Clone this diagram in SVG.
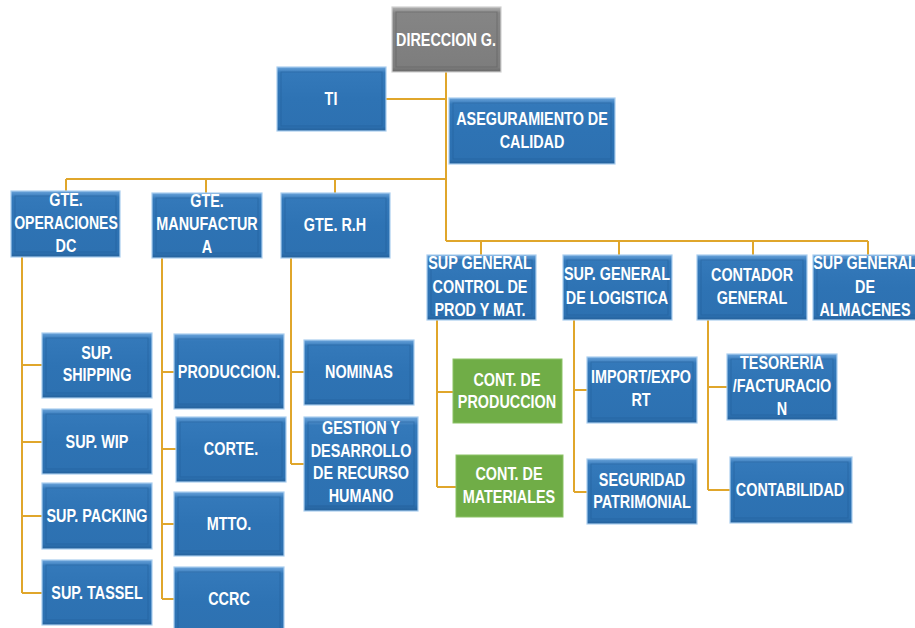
<svg xmlns="http://www.w3.org/2000/svg" width="915" height="628" viewBox="0 0 915 628">
<defs>
<linearGradient id="gB" x1="0" y1="0" x2="0" y2="1">
<stop offset="0" stop-color="#6aa3da"/><stop offset="0.09" stop-color="#3479ba"/><stop offset="0.5" stop-color="#2e73b4"/><stop offset="0.93" stop-color="#2d71b1"/><stop offset="1" stop-color="#24609a"/>
</linearGradient>
<linearGradient id="gG" x1="0" y1="0" x2="0" y2="1">
<stop offset="0" stop-color="#b2b2b2"/><stop offset="0.09" stop-color="#858585"/><stop offset="0.93" stop-color="#7d7d7d"/><stop offset="1" stop-color="#666"/>
</linearGradient>
</defs>
<style>
.b{fill:url(#gB);stroke:#a9cdef;stroke-width:1.2}
.g{fill:url(#gG);stroke:#d0d0d0;stroke-width:1.2}
.gr{fill:#70ad47;stroke:#8cc366;stroke-width:1}
.in{fill:none;stroke:#1f5a92;stroke-opacity:0.45;stroke-width:1}
.ing{fill:none;stroke:#555;stroke-opacity:0.45;stroke-width:1}
text{font-family:"Liberation Sans Narrow","Liberation Sans",Arial,sans-serif;font-weight:bold;font-size:18px;fill:#fff;text-anchor:middle}
.c{fill:none;stroke:#e0a62b;stroke-width:2}
</style>
<g id="connectors" class="c">
<path d="M446,72V241M386,99H446M66,179H446M66,179V191M206,179V193M335,179V193"/>
<path d="M446,241H868M481,241V255M619,241V255M753,241V255M868,241V255"/>
<path d="M22,257V593M22,365H42M22,442H42M22,516H42M22,593H42"/>
<path d="M162,258V599M162,372H174M162,449H176M162,524H174M162,599H174"/>
<path d="M291,258V464M291,372H304M291,464H304"/>
<path d="M437,320V487M437,392H453M437,487H456"/>
<path d="M574,320V492M574,390H587M574,492H587"/>
<path d="M708,320V490M708,387H727M708,490H730"/>
</g>
<g id="direccion"><rect class="g" x="392" y="7" width="109" height="65"/><rect class="ing" x="396" y="12" width="101" height="55"/><text transform="translate(446 46) scale(.8 1)">DIRECCION G.</text></g>
<g id="ti"><rect class="b" x="277" y="67" width="109" height="64"/><rect class="in" x="281" y="72" width="101" height="54"/><text transform="translate(331 105) scale(.8 1)">TI</text></g>
<g id="aseguramiento"><rect class="b" x="449" y="98" width="166" height="66"/><rect class="in" x="453" y="103" width="158" height="56"/><text transform="translate(532 125) scale(.8 1)">ASEGURAMIENTO DE</text><text transform="translate(532 148) scale(.8 1)">CALIDAD</text></g>
<g id="gte-operaciones"><rect class="b" x="11" y="191" width="109" height="66"/><rect class="in" x="15" y="196" width="101" height="56"/><text transform="translate(66 206) scale(.8 1)">GTE.</text><text transform="translate(66 229) scale(.78 1)">OPERACIONES</text><text transform="translate(66 252) scale(.8 1)">DC</text></g>
<g id="gte-manufactura"><rect class="b" x="152" y="193" width="110" height="65"/><rect class="in" x="156" y="198" width="102" height="55"/><text transform="translate(207 207) scale(.8 1)">GTE.</text><text transform="translate(207 230) scale(.8 1)">MANUFACTUR</text><text transform="translate(207 253) scale(.8 1)">A</text></g>
<g id="gte-rh"><rect class="b" x="281" y="193" width="109" height="65"/><rect class="in" x="285" y="198" width="101" height="55"/><text transform="translate(335 231) scale(.8 1)">GTE. R.H</text></g>
<g id="sup-shipping"><rect class="b" x="42" y="333" width="110" height="65"/><rect class="in" x="46" y="338" width="102" height="55"/><text transform="translate(97 359) scale(.8 1)">SUP.</text><text transform="translate(97 381) scale(.8 1)">SHIPPING</text></g>
<g id="sup-wip"><rect class="b" x="42" y="409" width="110" height="65"/><rect class="in" x="46" y="414" width="102" height="55"/><text transform="translate(97 448) scale(.8 1)">SUP. WIP</text></g>
<g id="sup-packing"><rect class="b" x="42" y="483" width="110" height="66"/><rect class="in" x="46" y="488" width="102" height="56"/><text transform="translate(97 522) scale(.8 1)">SUP. PACKING</text></g>
<g id="sup-tassel"><rect class="b" x="42" y="560" width="110" height="65"/><rect class="in" x="46" y="565" width="102" height="55"/><text transform="translate(97 599) scale(.8 1)">SUP. TASSEL</text></g>
<g id="produccion"><rect class="b" x="174" y="334" width="110" height="75"/><rect class="in" x="178" y="339" width="102" height="65"/><text transform="translate(229 378) scale(.8 1)">PRODUCCION.</text></g>
<g id="corte"><rect class="b" x="176" y="417" width="110" height="65"/><rect class="in" x="180" y="422" width="102" height="55"/><text transform="translate(231 455) scale(.8 1)">CORTE.</text></g>
<g id="mtto"><rect class="b" x="174" y="492" width="110" height="64"/><rect class="in" x="178" y="497" width="102" height="54"/><text transform="translate(229 530) scale(.8 1)">MTTO.</text></g>
<g id="ccrc"><rect class="b" x="174" y="567" width="110" height="70"/><rect class="in" x="178" y="572" width="102" height="60"/><text transform="translate(229 605) scale(.8 1)">CCRC</text></g>
<g id="nominas"><rect class="b" x="304" y="340" width="110" height="65"/><rect class="in" x="308" y="345" width="102" height="55"/><text transform="translate(359 378) scale(.8 1)">NOMINAS</text></g>
<g id="gestion"><rect class="b" x="304" y="417" width="114" height="94"/><rect class="in" x="308" y="422" width="106" height="84"/><text transform="translate(361 434) scale(.8 1)">GESTION Y</text><text transform="translate(361 456.5) scale(.8 1)">DESARROLLO</text><text transform="translate(361 479) scale(.8 1)">DE RECURSO</text><text transform="translate(361 502) scale(.8 1)">HUMANO</text></g>
<g id="sup-control"><rect class="b" x="427" y="255" width="109" height="65"/><rect class="in" x="431" y="260" width="101" height="55"/><text transform="translate(480 269) scale(.8 1)">SUP GENERAL</text><text transform="translate(480 292.5) scale(.8 1)">CONTROL DE</text><text transform="translate(480 316) scale(.8 1)">PROD Y MAT.</text></g>
<g id="sup-logistica"><rect class="b" x="563" y="255" width="109" height="65"/><rect class="in" x="567" y="260" width="101" height="55"/><text transform="translate(617 280) scale(.8 1)">SUP. GENERAL</text><text transform="translate(617 303.5) scale(.8 1)">DE LOGISTICA</text></g>
<g id="contador"><rect class="b" x="697" y="255" width="110" height="65"/><rect class="in" x="701" y="260" width="102" height="55"/><text transform="translate(752 281) scale(.8 1)">CONTADOR</text><text transform="translate(752 303.5) scale(.8 1)">GENERAL</text></g>
<g id="sup-almacenes"><rect class="b" x="813" y="255" width="108" height="65"/><rect class="in" x="817" y="260" width="100" height="55"/><text transform="translate(865 269) scale(.8 1)">SUP GENERAL</text><text transform="translate(865 292.5) scale(.8 1)">DE</text><text transform="translate(865 316) scale(.8 1)">ALMACENES</text></g>
<g id="cont-produccion"><rect class="gr" x="453" y="359" width="109" height="64"/><text transform="translate(507 386) scale(.8 1)">CONT. DE</text><text transform="translate(507 408) scale(.8 1)">PRODUCCION</text></g>
<g id="cont-materiales"><rect class="gr" x="456" y="455" width="107" height="62"/><text transform="translate(509 480) scale(.8 1)">CONT. DE</text><text transform="translate(509 503) scale(.8 1)">MATERIALES</text></g>
<g id="import-export"><rect class="b" x="587" y="357" width="110" height="66"/><rect class="in" x="591" y="362" width="102" height="56"/><text transform="translate(641 383) scale(.8 1)">IMPORT/EXPO</text><text transform="translate(641 406) scale(.8 1)">RT</text></g>
<g id="seguridad"><rect class="b" x="587" y="459" width="110" height="65"/><rect class="in" x="591" y="464" width="102" height="55"/><text transform="translate(642 485.5) scale(.8 1)">SEGURIDAD</text><text transform="translate(642 508) scale(.8 1)">PATRIMONIAL</text></g>
<g id="tesoreria"><rect class="b" x="727" y="354" width="110" height="66"/><rect class="in" x="731" y="359" width="102" height="56"/><text transform="translate(782 369) scale(.8 1)">TESORERIA</text><text transform="translate(782 392) scale(.8 1)">/FACTURACIO</text><text transform="translate(782 415) scale(.8 1)">N</text></g>
<g id="contabilidad"><rect class="b" x="730" y="457" width="122" height="66"/><rect class="in" x="734" y="462" width="114" height="56"/><text transform="translate(790 496) scale(.8 1)">CONTABILIDAD</text></g>
</svg>
